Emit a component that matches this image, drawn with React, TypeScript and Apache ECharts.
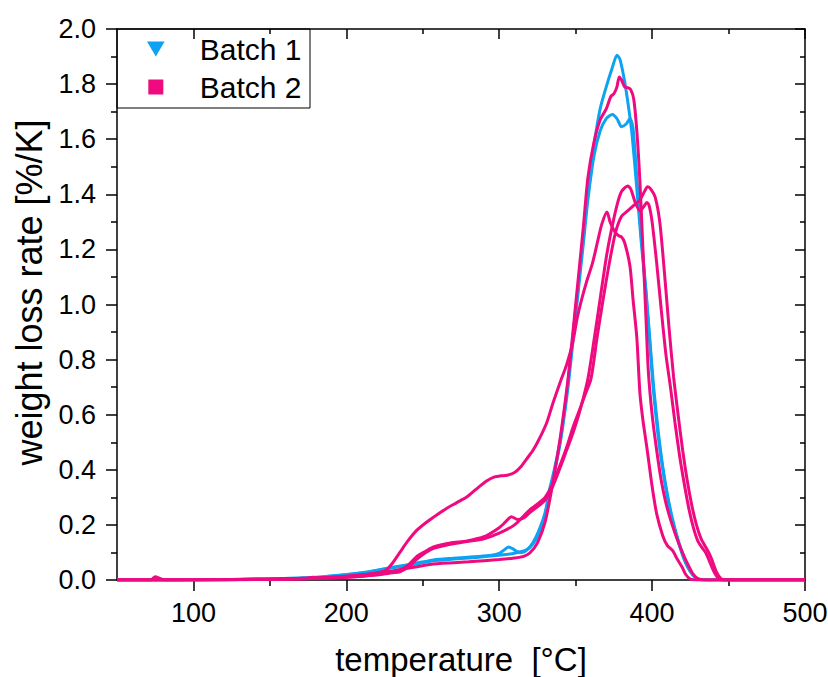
import React, { useEffect, useRef } from 'react';
import * as echarts from 'echarts';

const FONT = '"Liberation Sans", Arial, Helvetica, sans-serif';
const BLUE = '#0ea2f2';
const MAGENTA = '#ef0a80';

const xMajorTicks = [100, 200, 300, 400, 500];
const xMinorTicks = [150, 250, 350, 450];

// Batch 1 – two runs [temperature °C, weight loss rate %/K]
const batch1RunA = [[50,0],[100,0.001],[150,0.004],[180,0.01],[200,0.02],[215,0.03],[230,0.046],[245,0.06],[257,0.073],[270,0.079],[285,0.085],[295,0.09],[300,0.097],[303,0.108],[306,0.12],[309,0.113],[312,0.102],[315,0.1],[318,0.108],[322,0.135],[326,0.18],[330,0.245],[333,0.33],[336,0.4],[340,0.51],[345,0.72],[350,0.98],[355,1.24],[358,1.42],[362,1.58],[366,1.71],[370,1.79],[374,1.86],[377,1.905],[379,1.89],[382,1.81],[385,1.7],[387,1.61],[390,1.42],[393,1.22],[396,1.04],[399,0.82],[401,0.68],[404,0.52],[407,0.4],[410,0.3],[413,0.22],[416,0.16],[419,0.105],[422,0.06],[425,0.03],[428,0.01],[431,0.002],[440,0],[500,0]];
const batch1RunB = [[50,0],[100,0.001],[150,0.004],[180,0.009],[200,0.019],[215,0.029],[230,0.044],[245,0.057],[257,0.07],[270,0.076],[285,0.082],[300,0.09],[310,0.097],[318,0.11],[322,0.13],[326,0.17],[330,0.235],[333,0.31],[336,0.39],[340,0.5],[345,0.7],[350,0.96],[355,1.22],[358,1.38],[362,1.54],[366,1.63],[370,1.675],[374,1.69],[377,1.675],[380,1.645],[383,1.655],[385.5,1.675],[387.5,1.64],[390,1.46],[393,1.24],[396,1.05],[399,0.84],[401,0.7],[404,0.54],[407,0.41],[410,0.31],[413,0.23],[416,0.165],[419,0.11],[422,0.065],[425,0.032],[428,0.012],[431,0.003],[440,0],[500,0]];

// Batch 2 – four runs
const batch2RunA = [[50,0],[72,0],[75,0.012],[78,0.006],[81,0],[120,0.001],[160,0.003],[200,0.014],[230,0.033],[257,0.058],[280,0.066],[300,0.074],[310,0.08],[316,0.086],[320,0.098],[325,0.135],[330,0.21],[335,0.35],[340,0.52],[345,0.73],[350,1.0],[355,1.28],[358,1.46],[362,1.59],[366,1.67],[370,1.71],[373,1.755],[375,1.765],[377,1.79],[378.5,1.826],[380,1.815],[382,1.79],[384,1.787],[386,1.78],[388,1.745],[390,1.63],[392,1.45],[394,1.2],[396,0.95],[397.5,0.76],[400,0.6],[403,0.47],[406,0.36],[409,0.28],[412,0.22],[415,0.17],[418,0.125],[421,0.085],[424,0.05],[427,0.02],[430,0.004],[435,0],[500,0]];
const batch2RunB = [[50,0],[120,0.001],[170,0.006],[200,0.013],[215,0.02],[222,0.028],[226,0.036],[230,0.06],[235,0.1],[240,0.14],[246,0.18],[252,0.208],[257,0.228],[265,0.258],[272,0.28],[279,0.302],[285,0.33],[292,0.36],[297,0.374],[301,0.378],[305,0.38],[310,0.39],[314,0.41],[318,0.44],[322,0.47],[326,0.51],[331,0.57],[335,0.64],[340,0.72],[344,0.78],[348,0.86],[351,0.95],[354,1.02],[357,1.08],[361,1.15],[364,1.22],[367,1.29],[370.5,1.336],[372.5,1.3],[375.5,1.265],[378,1.25],[380,1.245],[382,1.225],[385.5,1.14],[387.5,1.02],[390,0.88],[392,0.68],[394,0.58],[396.6,0.48],[400,0.34],[403,0.24],[407,0.16],[410,0.125],[413.7,0.105],[416,0.08],[419.5,0.048],[422,0.02],[425,0.003],[430,0],[500,0]];
const batch2RunC = [[50,0],[120,0.001],[170,0.004],[200,0.01],[220,0.02],[230,0.03],[235,0.036],[240,0.052],[246,0.085],[252,0.105],[257,0.12],[268,0.134],[279,0.142],[290,0.157],[300,0.19],[304,0.21],[308,0.23],[312,0.22],[316,0.225],[320,0.245],[326,0.27],[330,0.29],[335,0.34],[340,0.41],[344,0.47],[348,0.53],[352,0.6],[355,0.66],[358,0.73],[362,0.87],[366,1.02],[370,1.17],[373,1.26],[377,1.36],[380,1.41],[384,1.43],[386,1.42],[389,1.37],[392,1.34],[394.5,1.355],[396.6,1.37],[398,1.36],[400,1.3],[403,1.15],[406,0.98],[409,0.82],[412,0.7],[415,0.57],[418,0.45],[421,0.35],[424,0.26],[427,0.19],[430,0.14],[433,0.115],[435,0.1],[437,0.075],[440,0.035],[443,0.008],[446,0],[500,0]];
const batch2RunD = [[50,0],[120,0.001],[175,0.006],[178,0.01],[181,0.006],[200,0.01],[220,0.018],[230,0.026],[235,0.03],[240,0.045],[246,0.075],[252,0.1],[257,0.115],[268,0.13],[279,0.14],[290,0.15],[300,0.17],[310,0.2],[320,0.255],[326,0.28],[330,0.3],[335,0.35],[340,0.42],[344,0.48],[348,0.55],[352,0.61],[356,0.67],[360,0.73],[364,0.88],[368,1.02],[372,1.15],[376,1.26],[380,1.32],[384,1.34],[388,1.36],[392,1.38],[395,1.41],[397,1.427],[399,1.42],[402,1.39],[405,1.3],[408,1.12],[411,0.92],[414,0.74],[417,0.6],[420,0.47],[423,0.36],[426,0.27],[429,0.2],[432,0.15],[435,0.12],[437,0.1],[439,0.075],[442,0.03],[445,0.005],[448,0],[500,0]];

const runs = [
  { name: 'Batch 1', color: BLUE, data: batch1RunA },
  { name: 'Batch 1', color: BLUE, data: batch1RunB },
  { name: 'Batch 2', color: MAGENTA, data: batch2RunA },
  { name: 'Batch 2', color: MAGENTA, data: batch2RunB },
  { name: 'Batch 2', color: MAGENTA, data: batch2RunC },
  { name: 'Batch 2', color: MAGENTA, data: batch2RunD },
];

const axisLine = { show: true, onZero: false, lineStyle: { color: '#000', width: 1.5 } };
const tickStyle = { color: '#000', width: 1.5 };

export default function App() {
  const ref = useRef<HTMLDivElement>(null);
  useEffect(() => {
    const chart = echarts.init(ref.current!, null, { renderer: 'svg' });
    const xBase = { type: 'value', min: 50, max: 500, gridIndex: 0, splitLine: { show: false } };
    chart.setOption({
      animation: false,
      backgroundColor: '#fff',
      grid: { left: 117, right: 23, top: 29, bottom: 97, containLabel: false, outerBoundsMode: 'none' },
      legend: {
        orient: 'vertical', left: 147, top: 34, padding: 0, itemGap: 8,
        itemWidth: 18, itemHeight: 15, selectedMode: false,
        textStyle: { fontSize: 30, fontFamily: FONT, color: '#000', lineHeight: 30, padding: [0, 0, 0, 30] },
        data: [
          { name: 'Batch 1', icon: 'path://M0,0L20,0L10,17Z' },
          { name: 'Batch 2', icon: 'path://M0,0L10,0L10,10L0,10Z' },
        ],
      },
      graphic: [
        { type: 'rect', shape: { x: 117, y: 29, width: 193, height: 79 }, style: { fill: 'none', stroke: '#000', lineWidth: 1 }, silent: true, z: 100 },
      ],
      xAxis: [
        {
          ...xBase, position: 'bottom', axisLine,
          axisTick: { show: true, customValues: xMajorTicks, length: 11, lineStyle: tickStyle },
          axisLabel: { customValues: xMajorTicks, fontSize: 27, fontFamily: FONT, color: '#000', margin: 19 },
          name: 'temperature  [°C]', nameLocation: 'middle', nameGap: 63,
          nameTextStyle: { fontSize: 33, fontFamily: FONT, color: '#000' },
        },
        {
          ...xBase, position: 'bottom', axisLine: { show: false, onZero: false },
          axisTick: { show: true, customValues: xMinorTicks, length: 6, lineStyle: tickStyle },
          axisLabel: { show: false },
        },
        {
          ...xBase, position: 'top', axisLine,
          axisTick: { show: true, inside: true, customValues: xMajorTicks, length: 10, lineStyle: tickStyle },
          axisLabel: { show: false },
        },
        {
          ...xBase, position: 'top', axisLine: { show: false, onZero: false },
          axisTick: { show: true, inside: true, customValues: xMinorTicks, length: 5, lineStyle: tickStyle },
          axisLabel: { show: false },
        },
      ],
      yAxis: [
        {
          type: 'value', min: 0, max: 2, interval: 0.2, position: 'left', axisLine,
          splitLine: { show: false },
          axisTick: { show: true, length: 11, lineStyle: tickStyle },
          minorTick: { show: true, splitNumber: 2, length: 6, lineStyle: tickStyle },
          axisLabel: { fontSize: 27, fontFamily: FONT, color: '#000', margin: 21, formatter: (v: number) => v.toFixed(1) },
          name: 'weight loss rate [%/K]', nameLocation: 'middle', nameGap: 62,
          nameTextStyle: { fontSize: 36, fontFamily: FONT, color: '#000', padding: [0, 0, 0, 24] },
        },
        {
          type: 'value', min: 0, max: 2, interval: 0.2, position: 'right', axisLine,
          splitLine: { show: false },
          axisTick: { show: true, inside: true, length: 10, lineStyle: tickStyle },
          minorTick: { show: true, splitNumber: 2, length: 5, lineStyle: tickStyle },
          axisLabel: { show: false },
        },
      ],
      series: runs.map((r) => ({
        type: 'line',
        name: r.name,
        xAxisIndex: 0,
        yAxisIndex: 0,
        data: r.data,
        showSymbol: false,
        symbol: 'none',
        smooth: 0.25,
        clip: true,
        itemStyle: { color: r.color },
        lineStyle: { color: r.color, width: 3 },
        emphasis: { disabled: true },
        silent: true,
      })),
    });
    return () => chart.dispose();
  }, []);
  return <div ref={ref} style={{ position: 'absolute', left: 0, top: 0, width: 828, height: 677 }} />;
}
